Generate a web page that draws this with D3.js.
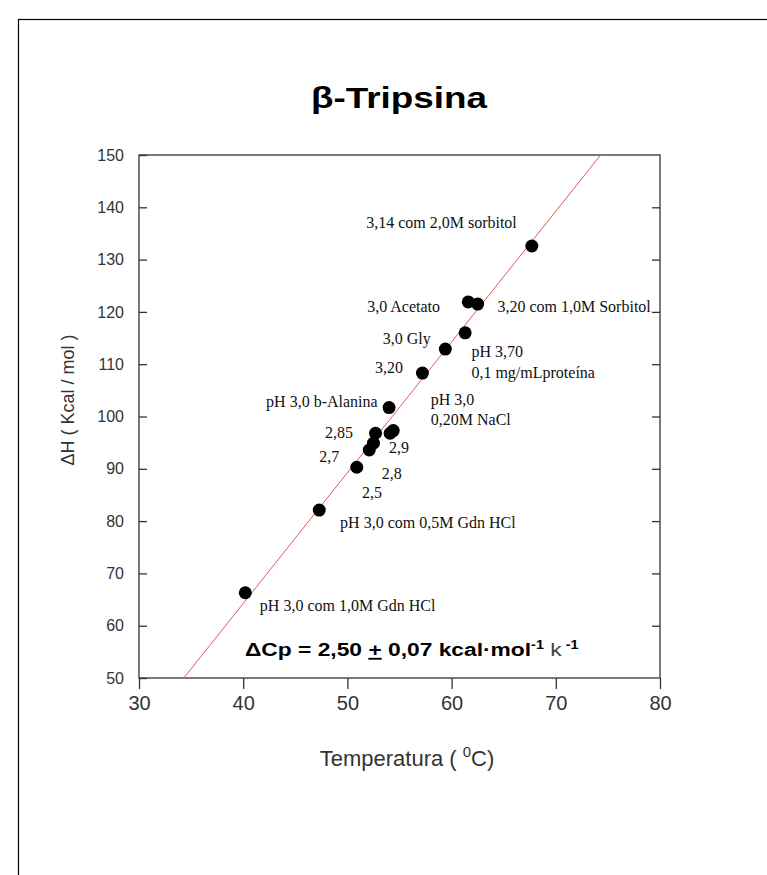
<!doctype html>
<html>
  <head>
    <meta charset="utf-8"/>
    <title>β-Tripsina</title>
    <style>
      body, html {
        padding: 0;
        margin: 0;
        border: 0;
        background: #fff;
      }
      svg { display: block; }
      .tick-y { font: 16px "Liberation Sans", Arial, sans-serif; fill: #333; }
      .tick-x { font: 20px "Liberation Sans", Arial, sans-serif; fill: #333; }
      .pt-label { font: 16px "Liberation Serif", "Times New Roman", serif; fill: #111; }
    </style>
    <script src="https://d3js.org/d3.v7.min.js"></script>
  </head>
  <body>
    <div id="chart"></div>

    <script>
      // temperatura (C) e entalpia (kcal/mol) de cada condicao
      var temps    = [67.7, 61.6, 62.5, 59.4, 61.3, 57.2, 54.0, 52.7, 54.1, 54.4, 52.5, 52.1, 50.9, 47.3, 40.2];
      var enthalpy = [132.6, 121.9, 121.5, 112.9, 116.0, 108.3, 101.7, 96.8, 96.8, 97.3, 94.9, 93.6, 90.3, 82.1, 66.3];

      // reta ajustada (dCp = 2,50)
      var fitT = [34.3, 74.3];
      var fitH = [50, 150];

      // rotulos, ancorados em unidades dos dados
      var labelText = ["3,14 com 2,0M sorbitol", "3,0 Acetato", "3,20 com 1,0M Sorbitol", "3,0 Gly",
                       "pH 3,70", "0,1 mg/mLproteína", "3,20", "pH 3,0 b-Alanina", "pH 3,0", "0,20M NaCl",
                       "2,85", "2,7", "2,9", "2,8", "2,5", "pH 3,0 com 0,5M Gdn HCl", "pH 3,0 com 1,0M Gdn HCl"];
      var labelT = [51.8, 51.9, 64.4, 53.4, 61.9, 61.9, 52.65, 42.2, 58.0, 58.0, 47.85, 47.3, 54.0, 53.3, 51.4, 49.3, 41.6];
      var labelH = [137.2, 121.1, 121.1, 115.0, 112.5, 108.5, 109.3, 102.8, 103.3, 99.5, 97.0, 92.4, 94.0, 89.2, 85.4, 79.8, 63.8];

      var xTicks = [30, 40, 50, 60, 70, 80];
      var yTicks = [50, 60, 70, 80, 90, 100, 110, 120, 130, 140, 150];

      var width = 767, height = 875;
      var pLeft = 139, pRight = 660, pTop = 155, pBottom = 678;

      var x = d3.scaleLinear().domain([30, 80]).range([pLeft, pRight]);
      var y = d3.scaleLinear().domain([50, 150]).range([pBottom, pTop]);

      var svg = d3.select("#chart").append("svg")
        .attr("width", width)
        .attr("height", height);

      // moldura externa
      svg.append("rect")
        .attr("x", 18.5).attr("y", 19.5)
        .attr("width", 800).attr("height", 900)
        .attr("fill", "none")
        .attr("stroke", "#000")
        .attr("stroke-width", 1.2);

      svg.append("text")
        .attr("x", 399).attr("y", 108)
        .attr("text-anchor", "middle")
        .attr("textLength", 176)
        .attr("lengthAdjust", "spacingAndGlyphs")
        .style("font", "bold 30px 'Liberation Sans', Arial, sans-serif")
        .style("fill", "#000")
        .text("β-Tripsina");

      // caixa do grafico
      svg.append("rect")
        .attr("x", pLeft).attr("y", pTop)
        .attr("width", pRight - pLeft).attr("height", pBottom - pTop)
        .attr("fill", "none")
        .attr("stroke", "#333")
        .attr("stroke-width", 1.3);

      var yAxisL = d3.axisLeft(y).tickValues(yTicks).tickSize(-8).tickPadding(15);
      var gy = svg.append("g").attr("transform", "translate(" + pLeft + ",0)").call(yAxisL);
      gy.select(".domain").remove();
      gy.selectAll("line").attr("stroke", "#333").attr("stroke-width", 1.3);
      gy.selectAll("text").attr("class", "tick-y").attr("fill", null);

      var yAxisR = d3.axisRight(y).tickValues(yTicks.slice(1, -1)).tickSize(-8).tickFormat("");
      var gyr = svg.append("g").attr("transform", "translate(" + pRight + ",0)").call(yAxisR);
      gyr.select(".domain").remove();
      gyr.selectAll("line").attr("stroke", "#333").attr("stroke-width", 1.3);

      var xAxis = d3.axisBottom(x).tickValues(xTicks).tickSize(11).tickPadding(7);
      var gx = svg.append("g").attr("transform", "translate(0," + pBottom + ")").call(xAxis);
      gx.select(".domain").remove();
      gx.selectAll("line").attr("stroke", "#333").attr("stroke-width", 1.3);
      gx.selectAll("text").attr("class", "tick-x").attr("fill", null);

      // titulos dos eixos
      var xt = svg.append("text")
        .attr("x", 407).attr("y", 766)
        .attr("text-anchor", "middle")
        .style("font", "22px 'Liberation Sans', Arial, sans-serif")
        .style("fill", "#333");
      xt.append("tspan").text("Temperatura ( ");
      xt.append("tspan").attr("dy", -9).style("font-size", "15px").text("0");
      xt.append("tspan").attr("dy", 9).text("C)");

      svg.append("text")
        .attr("transform", "translate(74,400) rotate(-90)")
        .attr("text-anchor", "middle")
        .style("font", "18px 'Liberation Sans', Arial, sans-serif")
        .style("fill", "#333")
        .text("ΔH ( Kcal / mol )");

      // reta
      svg.append("line")
        .attr("x1", x(fitT[0])).attr("y1", y(fitH[0]))
        .attr("x2", x(fitT[1])).attr("y2", y(fitH[1]))
        .attr("stroke", "#e05a5a")
        .attr("stroke-width", 1);

      svg.append("g").selectAll("circle")
        .data(d3.zip(temps, enthalpy))
        .enter().append("circle")
          .attr("cx", function(d) { return x(d[0]); })
          .attr("cy", function(d) { return y(d[1]); })
          .attr("r", 6.5)
          .attr("fill", "#000");

      svg.append("g").selectAll("text")
        .data(labelText)
        .enter().append("text")
          .attr("class", "pt-label")
          .attr("x", function(d, i) { return x(labelT[i]); })
          .attr("y", function(d, i) { return y(labelH[i]); })
          .attr("dy", "0.35em")
          .text(function(d) { return d; });

      // dCp
      var eq = svg.append("text")
        .attr("transform", "translate(245,656) scale(1.2,1)")
        .style("font", "bold 19px 'Liberation Sans', Arial, sans-serif")
        .style("fill", "#000");
      eq.append("tspan").text("ΔCp = 2,50 ");
      eq.append("tspan").style("text-decoration", "underline").text("+");
      eq.append("tspan").text(" 0,07  kcal·mol");
      eq.append("tspan").attr("dy", -7).style("font-size", "12px").text("-1");
      eq.append("tspan").attr("dy", 7).style("font-weight", "normal").style("fill", "#444").text(" k");
      eq.append("tspan").attr("dy", -7).style("font-size", "12px").text(" -1");
    </script>
  </body>
</html>
